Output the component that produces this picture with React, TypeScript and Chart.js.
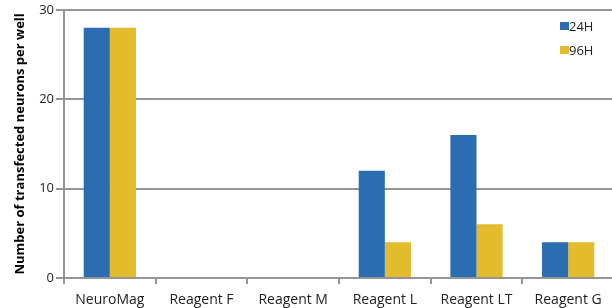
import React, { useEffect, useRef } from 'react';
import { Chart, registerables } from 'chart.js';

Chart.register(...registerables);

const categories = ['NeuroMag', 'Reagent F', 'Reagent M', 'Reagent L', 'Reagent LT', 'Reagent G'];
const seriesLabels = ['24H', '96H'];
const series24H = [28, 0, 0, 12, 16, 4];
const series96H = [28, 0, 0, 4, 6, 4];
const seriesColors = ['#2A6DB0', '#E3BC2D'];
const yMin = 0;
const yMax = 30;
const yStep = 10;
const yTitle = 'Number of transfected neurons per well';

const FONT = '"Open Sans", "Liberation Sans", sans-serif';
const GRID = '#959595';

const insideLegend = {
  id: 'insideLegend',
  afterDraw(chart: any) {
    const ctx = chart.ctx;
    ctx.save();
    chart.data.datasets.forEach((ds: any, i: number) => {
      const y = 26 + i * 24;
      ctx.fillStyle = ds.backgroundColor;
      ctx.fillRect(560, y - 4, 9, 8);
      ctx.fillStyle = '#222';
      ctx.font = `13px ${FONT}`;
      ctx.textBaseline = 'middle';
      ctx.textAlign = 'left';
      ctx.fillText(ds.label, 569, y + 1);
    });
    ctx.restore();
  },
};

export default function App() {
  const ref = useRef<HTMLCanvasElement | null>(null);
  useEffect(() => {
    if (!ref.current) return;
    const chart = new Chart(ref.current, {
      type: 'bar',
      data: {
        labels: categories,
        datasets: [
          { label: seriesLabels[0], data: series24H, backgroundColor: seriesColors[0] },
          { label: seriesLabels[1], data: series96H, backgroundColor: seriesColors[1] },
        ],
      },
      options: {
        animation: false,
        responsive: true,
        maintainAspectRatio: false,
        layout: { padding: { top: 9, right: 2, left: 0, bottom: 0 } },
        datasets: { bar: { categoryPercentage: 0.57, barPercentage: 1.0 } },
        plugins: { legend: { display: false }, tooltip: { enabled: false }, title: { display: false } },
        scales: {
          x: {
            grid: { display: true, drawOnChartArea: false, drawTicks: true, tickLength: 6, color: GRID, lineWidth: 2, offset: true },
            border: { color: GRID, width: 2 },
            ticks: { color: '#222', font: { size: 14, family: FONT }, padding: 8, maxRotation: 0, autoSkip: false },
            afterFit: (s: any) => { s.height = 30; },
          },
          y: {
            min: yMin,
            max: yMax,
            ticks: { stepSize: yStep, color: '#222', font: { size: 13, family: FONT }, padding: 2 },
            grid: { color: GRID, lineWidth: 2, tickLength: 8 },
            border: { color: GRID, width: 2 },
            title: { display: true, text: yTitle, color: '#000', font: { size: 13, weight: 'bold', family: FONT }, padding: { top: 12, bottom: 0 } },
            afterFit: (s: any) => { s.width = 64; },
          },
        },
      },
      plugins: [insideLegend],
    } as any);
    return () => chart.destroy();
  }, []);
  return (
    <div style={{ position: 'fixed', left: 0, top: 0, width: 612, height: 308, overflow: 'hidden', background: '#fff' }}>
      <div style={{ position: 'relative', width: 616, height: 308 }}>
        <canvas ref={ref} />
      </div>
    </div>
  );
}
